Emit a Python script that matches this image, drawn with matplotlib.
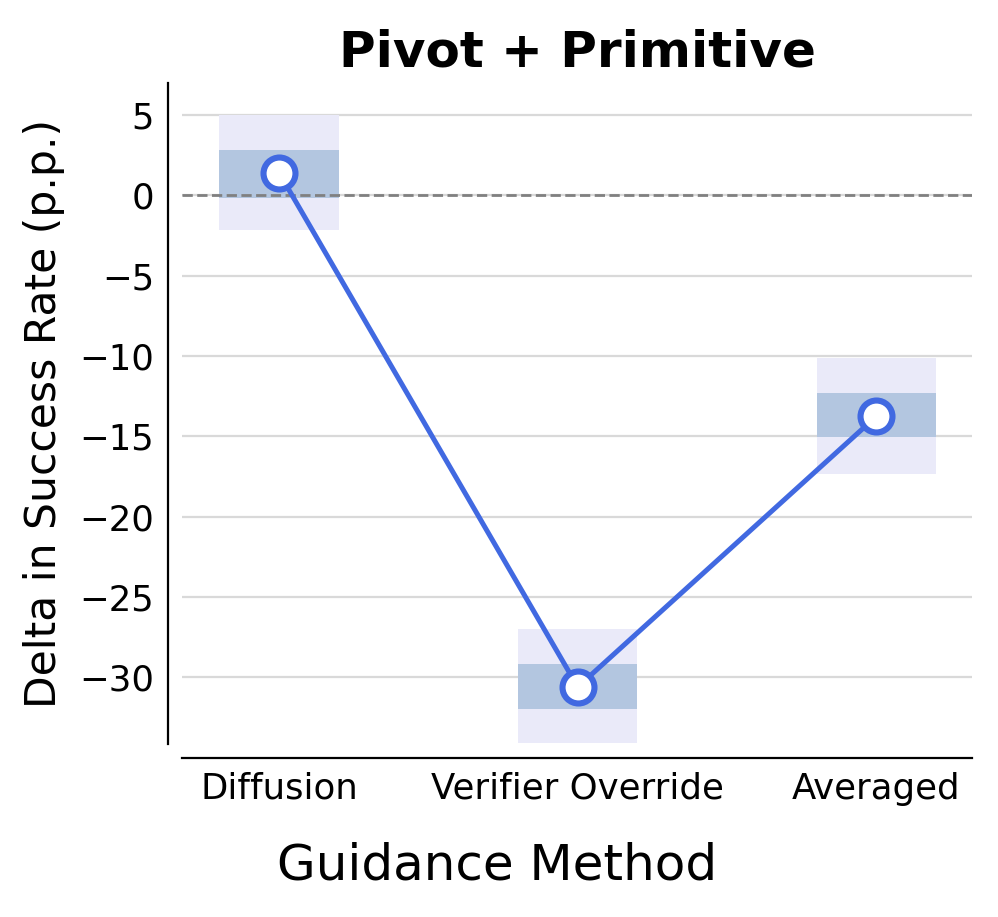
import matplotlib
matplotlib.use("Agg")
import matplotlib.pyplot as plt
from matplotlib.patches import Rectangle

# Valeurs (points de pourcentage)
methods = ["Diffusion", "Verifier Override", "Averaged"]
delta = [1.4, -30.6, -13.75]
inner_low = [-0.15, -32.0, -15.05]
inner_high = [2.8, -29.15, -12.3]
outer_low = [-2.15, -34.1, -17.35]
outer_high = [5.0, -27.0, -10.15]
yticks = [5, 0, -5, -10, -15, -20, -25, -30]

fig = plt.figure(figsize=(4.99, 4.585), dpi=200)
ax = fig.add_axes([0.1824, 0.1887, 0.7915, 0.7208])

x = list(range(len(methods)))
box_w = 0.4

# Boites : intervalle large puis intervalle interne
for i in x:
    ax.add_patch(Rectangle((i - box_w / 2, outer_low[i]), box_w, outer_high[i] - outer_low[i],
                           facecolor="#EAEAF9", edgecolor="none", zorder=1))
    ax.add_patch(Rectangle((i - box_w / 2, inner_low[i]), box_w, inner_high[i] - inner_low[i],
                           facecolor="#B3C6E0", edgecolor="none", zorder=2))

ax.axhline(0, color="gray", linestyle="--", linewidth=1.0, zorder=2.5)
ax.plot(x, delta, color="royalblue", linewidth=1.8, marker="o", markersize=11.5,
        markerfacecolor="white", markeredgecolor="royalblue", markeredgewidth=2.2, zorder=3)

ax.set_xlim(-0.325, 2.32)
ax.set_ylim(-34.15, 7.0)
ax.set_xticks(x)
ax.set_xticklabels(methods)
ax.set_yticks(yticks)
ax.yaxis.grid(True, color="#d9d9d9", linewidth=0.8, zorder=0)
ax.set_axisbelow(True)
ax.tick_params(axis="both", length=0, pad=5, labelsize=12.8)

for s in ["top", "right"]:
    ax.spines[s].set_visible(False)
ax.spines["left"].set_position(("outward", 5))
ax.spines["bottom"].set_position(("outward", 5))

ax.set_xlabel("Guidance Method", fontsize=18, labelpad=13)
ax.xaxis.label.set_x(0.399)  # centré sur la figure
ax.set_ylabel("Delta in Success Rate (p.p.)", fontsize=15.3, labelpad=5)
ax.set_title("Pivot + Primitive", fontsize=18, fontweight="bold", pad=6)

plt.savefig("out.png", dpi=200)
